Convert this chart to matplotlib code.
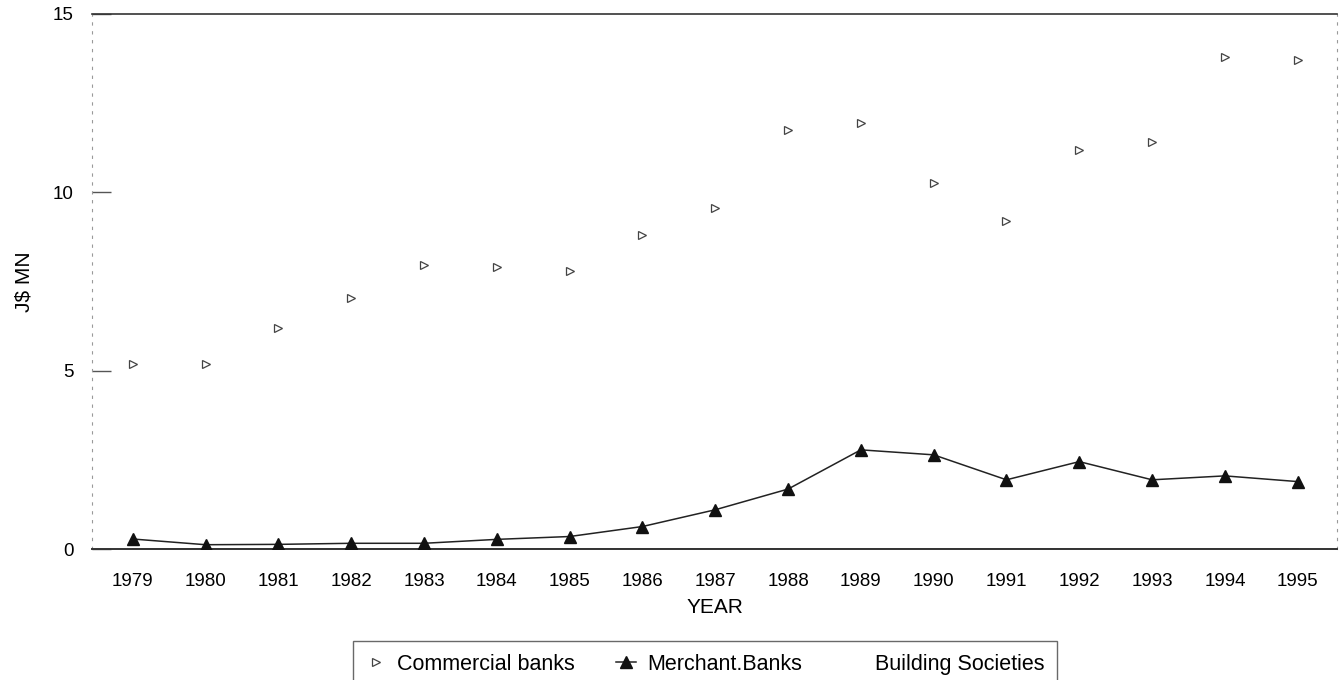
import matplotlib
matplotlib.use('Agg')
import matplotlib.pyplot as plt

plt.rcParams['font.family'] = ['Liberation Sans', 'DejaVu Sans']

# Datos (J$ MN)
anios = ['1979', '1980', '1981', '1982', '1983', '1984', '1985', '1986', '1987',
         '1988', '1989', '1990', '1991', '1992', '1993', '1994', '1995']
comerciales = [5.2, 5.2, 6.2, 7.05, 7.95, 7.9, 7.8, 8.8, 9.55,
               11.75, 11.95, 10.25, 9.2, 11.2, 11.4, 13.8, 13.7]
mercantiles = [0.28, 0.12, 0.13, 0.16, 0.16, 0.27, 0.35, 0.63, 1.1,
               1.68, 2.78, 2.64, 1.94, 2.45, 1.94, 2.05, 1.89]
sociedades = [0.0] * len(anios)

fig = plt.figure(figsize=(13.39, 6.8), dpi=100)
ax = fig.add_axes([92 / 1339, 1 - 549 / 680, (1337 - 92) / 1339, (549 - 14) / 680])

x = list(range(len(anios)))

ax.plot(x, sociedades, color='#444444', linewidth=1.2, label='Building Societies', zorder=2)
ax.plot(x, comerciales, linestyle='none', marker='>', markersize=6, fillstyle='none',
        markeredgecolor='#444444', markeredgewidth=0.9, label='Commercial banks', zorder=3)
ax.plot(x, mercantiles, color='#222222', linewidth=1.1, marker='^', markersize=8,
        markerfacecolor='#111111', markeredgecolor='#111111', label='Merchant.Banks', zorder=3)

ax.set_xlim(-0.56, len(anios) - 1 + 0.54)
ax.set_ylim(0, 15)
ax.set_xticks(x)
ax.set_xticklabels(anios, fontsize=13.5)
ax.set_yticks([0, 5, 10, 15])
ax.set_yticklabels(['0', '5', '10', '15'], fontsize=13.5)
ax.tick_params(axis='y', direction='in', length=14, width=1, color='#555555', pad=13)
ax.tick_params(axis='x', length=0, pad=17)

for lado in ['left', 'right']:
    ax.spines[lado].set_linestyle((0, (2, 6)))
    ax.spines[lado].set_color('#999999')
    ax.spines[lado].set_linewidth(0.8)
ax.spines['top'].set_color('#333333')
ax.spines['top'].set_linewidth(1.2)
ax.spines['bottom'].set_color('#333333')
ax.spines['bottom'].set_linewidth(1.4)

ax.set_xlabel('YEAR', fontsize=15, labelpad=6)
ax.set_ylabel('J$ MN', fontsize=15, labelpad=14)

h, l = ax.get_legend_handles_labels()
orden = [1, 2, 0]
leg = fig.legend([h[i] for i in orden], [l[i] for i in orden], ncol=3, fontsize=15.5,
                 loc='upper left', bbox_to_anchor=(353 / 1339, 1 - 641 / 680),
                 frameon=True, fancybox=False, edgecolor='#444444',
                 handlelength=0.93, handletextpad=0.5, columnspacing=1.95,
                 borderpad=0.6, borderaxespad=0)
leg.get_frame().set_linewidth(1.0)
# la linea de Building Societies no se ve en la leyenda
leg.legend_handles[2].set_visible(False)

fig.savefig('out.png', dpi=100, facecolor='white')
